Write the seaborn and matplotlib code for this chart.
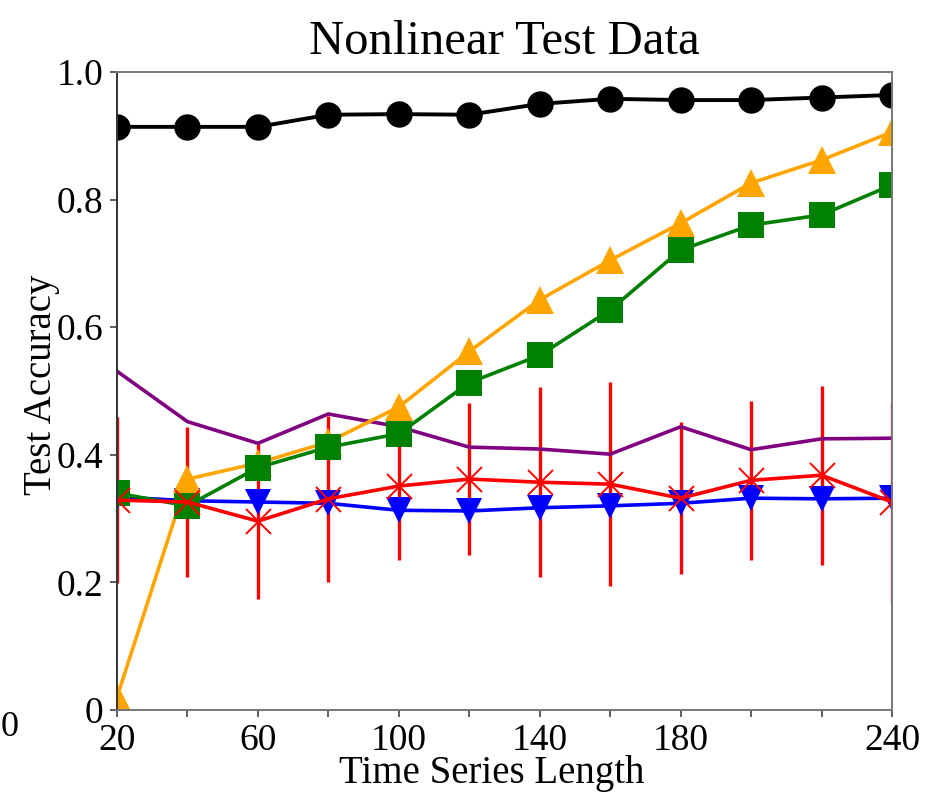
import matplotlib
matplotlib.use("Agg")
import matplotlib.pyplot as plt
import seaborn as sns
import pandas as pd

lengths = [20, 40, 60, 80, 100, 120, 140, 160, 180, 200, 220, 240]
black_acc = [0.914, 0.914, 0.914, 0.933, 0.934, 0.933, 0.950, 0.958, 0.956, 0.956, 0.960, 0.964]
orange_acc = [0.020, 0.362, 0.387, 0.420, 0.475, 0.562, 0.643, 0.705, 0.763, 0.826, 0.862, 0.906]
green_acc = [0.340, 0.320, 0.380, 0.412, 0.433, 0.513, 0.556, 0.627, 0.721, 0.760, 0.776, 0.823]
purple_acc = [0.531, 0.452, 0.418, 0.464, 0.444, 0.412, 0.409, 0.401, 0.444, 0.408, 0.425, 0.426]
blue_acc = [0.334, 0.328, 0.326, 0.324, 0.313, 0.312, 0.317, 0.320, 0.324, 0.332, 0.331, 0.332]
red_acc = [0.329, 0.326, 0.296, 0.331, 0.351, 0.362, 0.357, 0.354, 0.332, 0.360, 0.368, 0.326]
red_err = [0.130, 0.118, 0.122, 0.130, 0.116, 0.119, 0.149, 0.160, 0.119, 0.125, 0.140, 0.157]

xtick_vals = [20, 40, 60, 80, 100, 120, 140, 160, 180, 200, 220, 240]
xtick_labels = ["20", "", "60", "", "100", "", "140", "", "180", "", "", "240"]
ytick_vals = [0, 0.2, 0.4, 0.6, 0.8, 1.0]
ytick_labels = ["0", "0.2", "0.4", "0.6", "0.8", "1.0"]

sns.set_theme(style="ticks")
plt.rcParams["font.family"] = ["Liberation Serif", "DejaVu Serif"]
plt.rcParams["mathtext.fontset"] = "stix"

fig = plt.figure(figsize=(9.38, 8.02), dpi=100)
ax = fig.add_axes([117 / 938, 1 - 710 / 802, (892 - 117) / 938, (710 - 72) / 802])

df = pd.DataFrame({
    "len": lengths, "black": black_acc, "orange": orange_acc, "green": green_acc,
    "purple": purple_acc, "blue": blue_acc, "red": red_acc, "err": red_err,
})

ax.errorbar(df["len"], df["red"], yerr=df["err"], fmt="none", ecolor="red",
            elinewidth=2.4, capsize=0, zorder=1.5)

sns.lineplot(data=df, x="len", y="purple", color="purple", linewidth=2.6, ax=ax, zorder=2.0)
sns.lineplot(data=df, x="len", y="blue", color="blue", linewidth=2.6, marker="v",
             markersize=19, markeredgecolor="blue", markeredgewidth=0, ax=ax, zorder=2.1)
sns.lineplot(data=df, x="len", y="orange", color="orange", linewidth=2.6, marker="^",
             markersize=20, markeredgecolor="orange", markeredgewidth=0, ax=ax, zorder=2.2)
sns.lineplot(data=df, x="len", y="green", color="green", linewidth=2.6, marker="s",
             markersize=19, markeredgecolor="green", markeredgewidth=0, ax=ax, zorder=2.3)
sns.lineplot(data=df, x="len", y="red", color="red", linewidth=2.6, marker="x",
             markersize=18, markeredgecolor="red", markeredgewidth=1.4, ax=ax, zorder=2.4)
sns.lineplot(data=df, x="len", y="black", color="black", linewidth=2.8, marker="o",
             markersize=19, markeredgecolor="black", markeredgewidth=0, ax=ax, zorder=2.5)

ax.set_xlim(20, 240)
ax.set_ylim(0, 1.0)
ax.set_xticks(xtick_vals)
ax.set_xticklabels(xtick_labels)
ax.set_yticks(ytick_vals)
ax.set_yticklabels(ytick_labels)
ax.tick_params(axis="both", direction="out", length=5, width=1.2, color="#444444",
               labelsize=27, pad=5, labelcolor="black")

for side, sp in ax.spines.items():
    sp.set_visible(True)
    sp.set_linewidth(1.4)
    sp.set_color("#777777")
ax.spines["left"].set_color("#333333")

ax.set_xlabel("Time Series Length", fontsize=28, color="black")
ax.set_ylabel("Test Accuracy", fontsize=28, color="black")
ax.xaxis.set_label_coords(0.484, -0.07)
ax.yaxis.set_label_coords(-0.074, 0.51)
ax.set_title("Nonlinear Test Data", fontsize=35, pad=13, color="black")

fig.text(1 / 938, 1 - 728 / 802, "0", ha="left", va="center", fontsize=26, color="black")

fig.savefig("out.png", dpi=100)
